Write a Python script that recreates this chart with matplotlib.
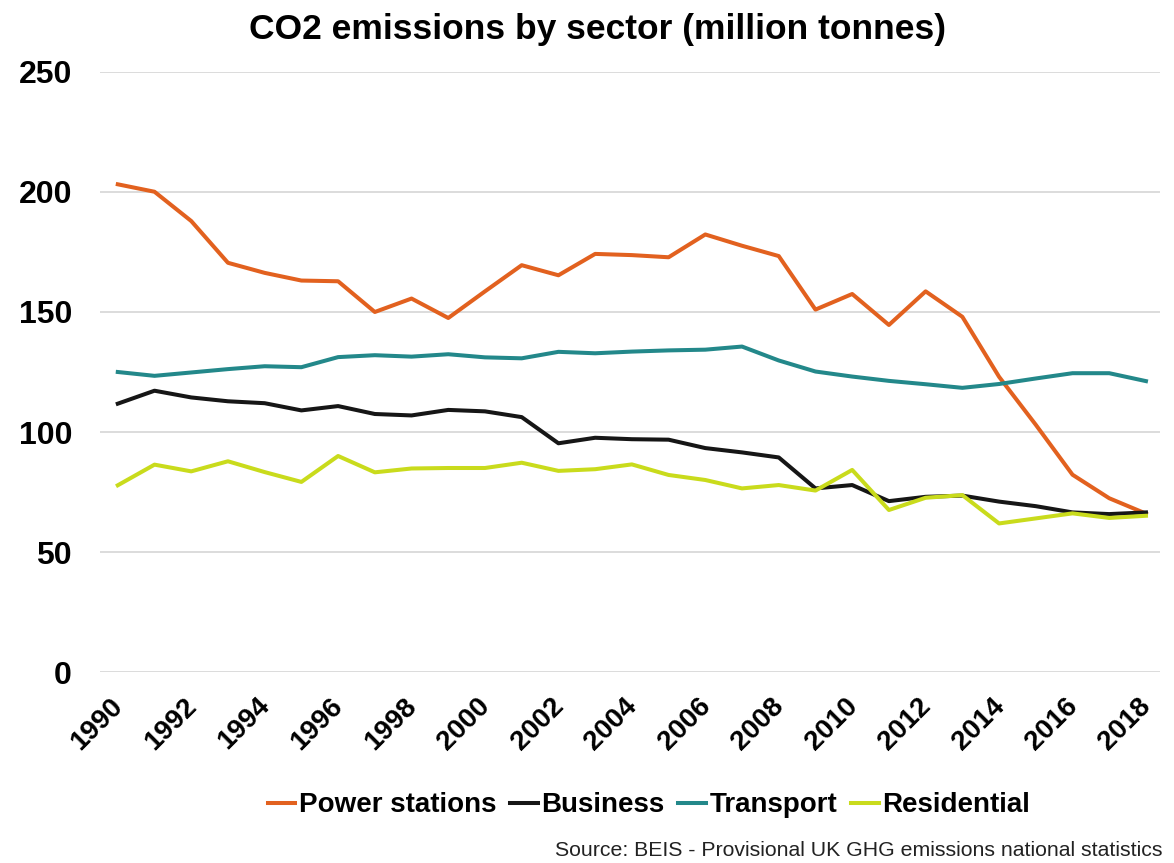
import numpy as np
import matplotlib
matplotlib.use("Agg")
import matplotlib.pyplot as plt
from matplotlib.transforms import ScaledTranslation

plt.rcParams['font.family'] = ['Liberation Sans', 'DejaVu Sans']

years = list(range(1990, 2019))

power_stations = [203.2, 200.1, 187.9, 170.5, 166.3, 163.1, 162.8, 150.0, 155.6, 147.5,
                  158.6, 169.5, 165.3, 174.2, 173.7, 172.8, 182.3, 177.6, 173.3, 151.0,
                  157.5, 144.6, 158.6, 148.0, 123.0, 103.0, 82.2, 72.4, 66.0]
business = [111.8, 117.2, 114.4, 112.8, 112.0, 109.0, 110.8, 107.5, 106.9, 109.2,
            108.6, 106.2, 95.3, 97.6, 97.0, 96.8, 93.3, 91.5, 89.4, 76.5,
            77.9, 71.2, 73.0, 73.5, 71.0, 69.1, 66.5, 65.8, 66.5]
transport = [125.0, 123.4, 124.8, 126.2, 127.4, 127.0, 131.2, 132.0, 131.4, 132.4,
             131.1, 130.7, 133.4, 132.8, 133.5, 134.0, 134.3, 135.6, 129.8, 125.2,
             123.1, 121.3, 119.9, 118.4, 120.0, 122.3, 124.5, 124.5, 121.2]
residential = [77.8, 86.4, 83.6, 87.8, 83.3, 79.2, 90.0, 83.2, 84.8, 85.0,
               85.0, 87.2, 83.8, 84.5, 86.5, 82.1, 80.0, 76.5, 77.9, 75.6,
               84.2, 67.5, 72.6, 73.7, 61.9, 64.0, 66.1, 64.2, 65.1]

series = [("Power stations", power_stations, "#E2611F"),
          ("Business", business, "#161616"),
          ("Transport", transport, "#23888A"),
          ("Residential", residential, "#C9DB1C")]

fig = plt.figure(figsize=(11.74, 8.63), dpi=100)
ax = fig.add_axes([0.085, 0.2213, 0.903, 0.6953])

for name, vals, col in series:
    ax.plot(years, vals, color=col, lw=2.9, label=name)

ax.set_xlim(1989.51, 2018.38)
ax.set_ylim(0, 250)
ax.set_yticks(np.arange(0, 251, 50))
ax.set_xticks(years[::2])
ax.grid(axis='y', color='#d9d9d9', lw=1.3)
ax.set_axisbelow(True)
for s in ax.spines.values():
    s.set_visible(False)
ax.tick_params(length=0)
ax.tick_params(axis='y', labelsize=23, pad=20)
ax.tick_params(axis='x', labelsize=20, pad=15)
for lab in ax.get_yticklabels():
    lab.set_fontweight('bold')
# rotated year labels, nudged a little left of their ticks
shift = ScaledTranslation(-8 / 100, 0, fig.dpi_scale_trans)
for lab in ax.get_xticklabels():
    lab.set_fontweight('bold')
    lab.set_rotation(45)
    lab.set_ha('right')
    lab.set_rotation_mode('anchor')
    lab.set_transform(lab.get_transform() + shift)

fig.text(0.509, 0.966, "CO2 emissions by sector (million tonnes)", ha='center', va='center',
         fontsize=25.5, fontweight='bold')

ax.legend(loc='center', bbox_to_anchor=(0.518, -0.222), ncol=4, frameon=False,
          prop={'size': 20, 'weight': 'bold'}, handlelength=1.0, handletextpad=0.12,
          columnspacing=0.5)

fig.text(0.99, 0.003, "Source: BEIS - Provisional UK GHG emissions national statistics",
         ha='right', va='bottom', fontsize=15.3, color='#222222')

fig.savefig("out.png", dpi=100)
